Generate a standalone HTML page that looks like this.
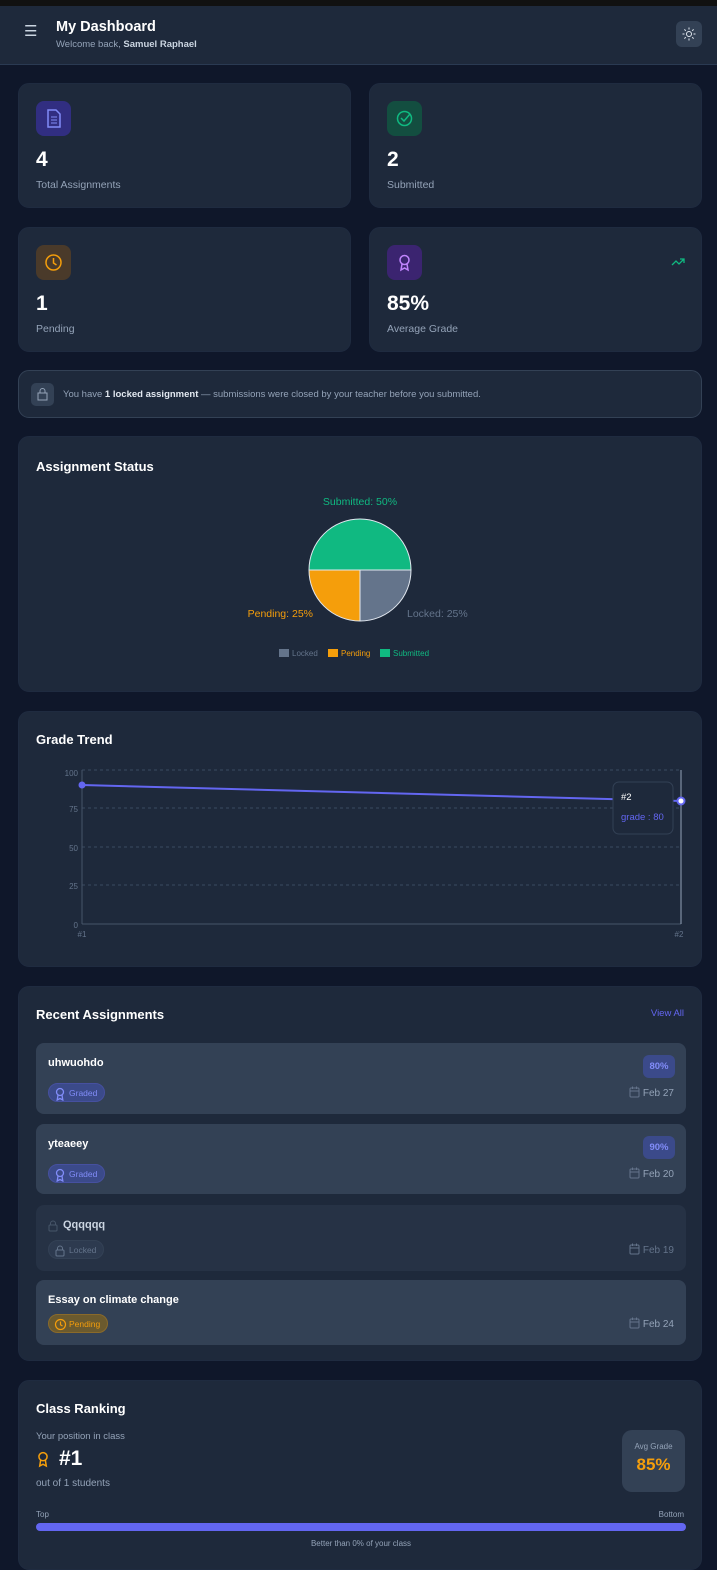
<!DOCTYPE html>
<html><head><meta charset="utf-8"><style>
*{box-sizing:border-box;margin:0;padding:0}
body{width:717px;height:1549px;overflow:hidden;background:#0f172a;font-family:"Liberation Sans",sans-serif;color:#fff;position:relative}
.abs{position:absolute}
.card{position:absolute;background:#1e293b;border-radius:11px;border:1px solid #1f2b40}
.ic{position:absolute;width:35px;height:35px;border-radius:8px;left:17px;top:17px}
.num{position:absolute;left:17px;top:64px;font-size:21px;font-weight:bold}
.lbl{position:absolute;left:17px;top:95px;font-size:10.5px;color:#94a3b8}
.ttl{position:absolute;left:17px;font-size:13px;font-weight:bold}
.item{position:absolute;left:17px;width:650px;border-radius:8px;background:#334155}
.item .n{position:absolute;left:12px;top:14px;font-size:11px;font-weight:bold}
.badge{position:absolute;left:12px;height:19px;border-radius:10px;font-size:8.5px;line-height:19px;padding:0 7px 0 20px}
.badge svg{position:absolute;left:5px;top:3px}
.date{position:absolute;right:12px;font-size:10px;color:#94a3b8}
.date svg{vertical-align:-2px;margin-right:3px}
.pct{position:absolute;right:11px;top:12px;width:32px;height:23px;border-radius:6px;background:#3b4a8a;color:#818cf8;font-size:9.5px;font-weight:bold;text-align:center;line-height:23px}
</style></head><body>
<svg width="0" height="0" style="position:absolute"><defs>
<g id="award"><circle cx="6" cy="5" r="3.5" fill="none" stroke="currentColor" stroke-width="1.3"/><path d="M4 8l-.8 5 2.8-1.5 2.8 1.5-.8-5" fill="none" stroke="currentColor" stroke-width="1.3"/></g>
<g id="cal"><rect x="1" y="2" width="9" height="9" rx="1" fill="none" stroke="currentColor"/><path d="M1 5h9M3.5 0.5v2.5M7.5 0.5v2.5" stroke="currentColor"/></g>
<g id="lock"><rect x="2" y="6" width="8" height="6" rx="1" fill="none" stroke="currentColor"/><path d="M3.5 6V4.5a2.5 2.5 0 015 0V6" fill="none" stroke="currentColor"/></g>
<g id="clock"><circle cx="6.5" cy="6.5" r="5" fill="none" stroke="currentColor" stroke-width="1.2"/><path d="M6.5 3.5v3.3l2 1.2" fill="none" stroke="currentColor" stroke-width="1.2"/></g>
</defs></svg>
<div class="abs" style="left:0;top:0;width:717px;height:6px;background:#111"></div>
<div class="abs" style="left:0;top:6px;width:717px;height:59px;background:#1e293b;border-bottom:1px solid #2a3a52"></div>
<div class="abs" style="left:24px;top:22px;font-size:15px;color:#cbd5e1">☰</div>
<div class="abs" style="left:56px;top:19px;font-size:14.5px;font-weight:bold">My Dashboard</div>
<div class="abs" style="left:56px;top:39px;font-size:9.5px;color:#94a3b8">Welcome back, <b style="color:#cbd5e1">Samuel Raphael</b></div>
<div class="abs" style="left:676px;top:21px;width:26px;height:26px;border-radius:6px;background:#334155"><svg width="26" height="26"><circle cx="13" cy="13" r="2.5" fill="none" stroke="#e2e8f0"/><g stroke="#e2e8f0"><path d="M13 6.5v2M13 17.5v2M6.5 13h2M17.5 13h2M8.4 8.4l1.4 1.4M16.2 16.2l1.4 1.4M8.4 17.6l1.4-1.4M16.2 9.8l1.4-1.4"/></g></svg></div>

<div class="card" style="left:18px;top:83px;width:333px;height:125px"><div class="ic" style="background:#312e81"><svg width="35" height="35"><path d="M12 9h8l4 4v13h-12z" fill="none" stroke="#818cf8" stroke-width="1.5"/><path d="M15 16h6M15 19h6M15 22h6" stroke="#818cf8"/></svg></div><div class="num">4</div><div class="lbl">Total Assignments</div></div>
<div class="card" style="left:369px;top:83px;width:333px;height:125px"><div class="ic" style="background:#134e40"><svg width="35" height="35"><circle cx="17.5" cy="17.5" r="7" fill="none" stroke="#10b981" stroke-width="1.5"/><path d="M14 17l3 3 6-7" fill="none" stroke="#10b981" stroke-width="1.5"/></svg></div><div class="num">2</div><div class="lbl">Submitted</div></div>
<div class="card" style="left:18px;top:227px;width:333px;height:125px"><div class="ic" style="background:#4a3a2a"><svg width="35" height="35"><circle cx="17.5" cy="17.5" r="7.5" fill="none" stroke="#f59e0b" stroke-width="1.5"/><path d="M17.5 13v5l3 2" fill="none" stroke="#f59e0b" stroke-width="1.5"/></svg></div><div class="num">1</div><div class="lbl">Pending</div></div>
<div class="card" style="left:369px;top:227px;width:333px;height:125px"><div class="ic" style="background:#3b2470"><svg width="35" height="35"><circle cx="17.5" cy="15" r="4.5" fill="none" stroke="#c084fc" stroke-width="1.5"/><path d="M15 19l-1 6 3.5-2 3.5 2-1-6" fill="none" stroke="#c084fc" stroke-width="1.5"/></svg></div><div class="num">85%</div><div class="lbl">Average Grade</div><svg class="abs" style="right:16px;top:29px" width="14" height="10"><path d="M1 8l4-4 3 3 5-5M9 2h4v4" fill="none" stroke="#10b981" stroke-width="1.3"/></svg></div>

<div class="card" style="left:18px;top:370px;width:684px;height:48px;border-color:#334155"><div class="abs" style="left:12px;top:12px;width:23px;height:23px;border-radius:5px;background:#334155"><svg width="23" height="23"><rect x="7" y="10" width="9" height="7" fill="none" stroke="#94a3b8"/><path d="M9 10V8a2.5 2.5 0 015 0v2" fill="none" stroke="#94a3b8"/></svg></div><div class="abs" style="left:44px;top:18px;font-size:9.5px;color:#94a3b8">You have <b style="color:#e2e8f0">1 locked assignment</b> — submissions were closed by your teacher before you submitted.</div></div>

<div class="card" style="left:18px;top:436px;width:684px;height:256px"><div class="ttl" style="top:22px">Assignment Status</div></div>
<svg class="abs" style="left:0;top:436px" width="717" height="256" font-family="Liberation Sans">
<path d="M360 134 L309 134 A51 51 0 0 1 411 134 Z" fill="#10b981" stroke="#e2e8f0" stroke-width="1"/>
<path d="M360 134 L360 185 A51 51 0 0 1 309 134 Z" fill="#f59e0b" stroke="#e2e8f0" stroke-width="1"/>
<path d="M360 134 L411 134 A51 51 0 0 1 360 185 Z" fill="#64748b" stroke="#e2e8f0" stroke-width="1"/>
<text x="360" y="69" fill="#10b981" font-size="10.5" text-anchor="middle">Submitted: 50%</text>
<text x="313" y="181" fill="#f59e0b" font-size="10.5" text-anchor="end">Pending: 25%</text>
<text x="407" y="181" fill="#64748b" font-size="10.5">Locked: 25%</text>
<rect x="279" y="213" width="10" height="8" fill="#64748b"/><text x="292" y="220" fill="#64748b" font-size="8">Locked</text>
<rect x="328" y="213" width="10" height="8" fill="#f59e0b"/><text x="341" y="220" fill="#f59e0b" font-size="8">Pending</text>
<rect x="380" y="213" width="10" height="8" fill="#10b981"/><text x="393" y="220" fill="#10b981" font-size="8">Submitted</text>
</svg>

<div class="card" style="left:18px;top:711px;width:684px;height:256px"><div class="ttl" style="top:20px">Grade Trend</div></div>
<svg class="abs" style="left:0;top:711px" width="717" height="256" font-family="Liberation Sans">
<g stroke="#3b4a60" stroke-dasharray="3 3"><line x1="82" y1="59" x2="681" y2="59"/><line x1="82" y1="97" x2="681" y2="97"/><line x1="82" y1="136" x2="681" y2="136"/><line x1="82" y1="174" x2="681" y2="174"/></g>
<line x1="82" y1="59" x2="82" y2="213" stroke="#475569"/><line x1="82" y1="213" x2="681" y2="213" stroke="#475569"/>
<line x1="681" y1="59" x2="681" y2="213" stroke="#94a3b8"/>
<g fill="#64748b" font-size="8" text-anchor="end"><text x="78" y="65">100</text><text x="78" y="101">75</text><text x="78" y="140">50</text><text x="78" y="178">25</text><text x="78" y="217">0</text></g>
<g fill="#64748b" font-size="8" text-anchor="middle"><text x="82" y="226">#1</text><text x="679" y="226">#2</text></g>
<line x1="82" y1="74" x2="681" y2="90" stroke="#6366f1" stroke-width="2"/>
<circle cx="82" cy="74" r="3.5" fill="#6366f1"/><circle cx="681" cy="90" r="3.5" fill="#fff" stroke="#6366f1" stroke-width="2"/>
<rect x="613" y="71" width="60" height="52" rx="6" fill="#1e293b" stroke="#334155"/>
<text x="621" y="89" fill="#fff" font-size="9.5">#2</text><text x="621" y="109" fill="#6366f1" font-size="9.5">grade : 80</text>
</svg>

<div class="card" style="left:18px;top:986px;width:684px;height:375px">
<div class="ttl" style="top:20px">Recent Assignments</div>
<div class="abs" style="right:17px;top:21px;font-size:9.5px;color:#6366f1">View All</div>
<div class="item" style="top:56px;height:71px"><div class="n">uhwuohdo</div><div class="pct">80%</div><div class="badge" style="top:40px;background:#3b4a8a;color:#818cf8;border:1px solid #4650a0"><svg width="12" height="14" style="color:#818cf8"><use href="#award"/></svg>Graded</div><div class="date" style="top:43px"><svg width="11" height="12" style="color:#64748b"><use href="#cal"/></svg>Feb 27</div></div>
<div class="item" style="top:137px;height:70px"><div class="n">yteaeey</div><div class="pct">90%</div><div class="badge" style="top:40px;background:#3b4a8a;color:#818cf8;border:1px solid #4650a0"><svg width="12" height="14" style="color:#818cf8"><use href="#award"/></svg>Graded</div><div class="date" style="top:43px"><svg width="11" height="12" style="color:#64748b"><use href="#cal"/></svg>Feb 20</div></div>
<div class="item" style="top:218px;height:66px;background:#263245"><div class="n" style="left:27px;color:#cbd5e1">Qqqqqq</div><svg class="abs" style="left:11px;top:14px;color:#475569" width="12" height="13"><use href="#lock"/></svg><div class="badge" style="top:35px;background:#2d3a4f;color:#64748b;border:1px solid #334155"><svg width="12" height="13" style="color:#64748b"><use href="#lock"/></svg>Locked</div><div class="date" style="top:38px;color:#64748b"><svg width="11" height="12" style="color:#64748b"><use href="#cal"/></svg>Feb 19</div></div>
<div class="item" style="top:293px;height:65px"><div class="n">Essay on climate change</div><div class="badge" style="top:34px;background:#6b5a2e;color:#f59e0b;border:1px solid #8a6a2a"><svg width="13" height="13" style="color:#f59e0b"><use href="#clock"/></svg>Pending</div><div class="date" style="top:37px"><svg width="11" height="12" style="color:#64748b"><use href="#cal"/></svg>Feb 24</div></div>
</div>

<div class="card" style="left:18px;top:1380px;width:684px;height:190px">
<div class="ttl" style="top:20px">Class Ranking</div>
<div class="abs" style="left:17px;top:50px;font-size:9.5px;color:#94a3b8">Your position in class</div>
<svg class="abs" style="left:17px;top:69px;color:#f59e0b" width="14" height="18" viewBox="0 0 12 14"><use href="#award"/></svg>
<div class="abs" style="left:40px;top:66px;font-size:21px;font-weight:bold">#1</div>
<div class="abs" style="left:17px;top:97px;font-size:10px;color:#94a3b8">out of 1 students</div>
<div class="abs" style="left:603px;top:49px;width:63px;height:62px;border-radius:10px;background:#334155;text-align:center"><div style="font-size:8px;color:#94a3b8;margin-top:12px">Avg Grade</div><div style="font-size:17px;font-weight:bold;color:#f59e0b;margin-top:4px">85%</div></div>
<div class="abs" style="left:17px;top:129px;font-size:8px;color:#94a3b8">Top</div>
<div class="abs" style="right:17px;top:129px;font-size:8px;color:#94a3b8">Bottom</div>
<div class="abs" style="left:17px;top:142px;width:650px;height:8px;border-radius:4px;background:#6366f1"></div>
<div class="abs" style="left:0;width:684px;top:158px;font-size:8px;color:#94a3b8;text-align:center">Better than 0% of your class</div>
</div>
</body></html>
